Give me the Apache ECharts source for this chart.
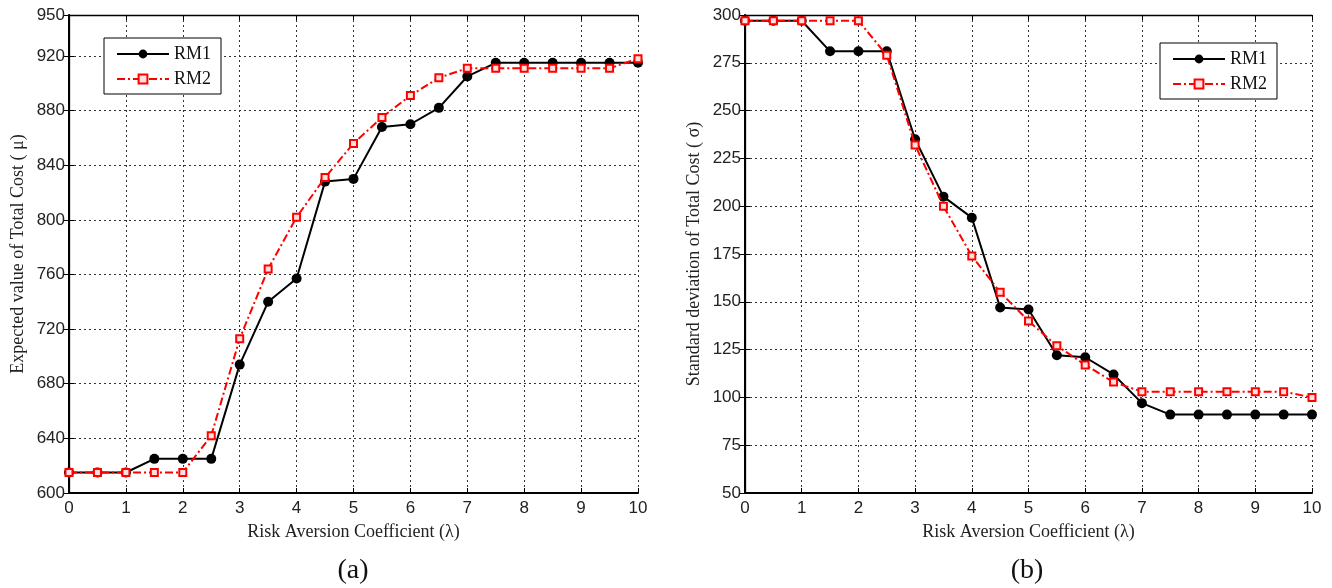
<!DOCTYPE html>
<html>
<head>
<meta charset="utf-8">
<script src="https://cdn.jsdelivr.net/npm/echarts@6/dist/echarts.min.js"></script>
<style>
html,body{margin:0;padding:0;background:#fff;}
#chart{width:1332px;height:588px;}
</style>
</head>
<body>
<div id="chart"></div>
<script>
// ---- Data ----
const lambdaValues = [0,0.5,1,1.5,2,2.5,3,3.5,4,4.5,5,5.5,6,6.5,7,7.5,8,8.5,9,9.5,10];
const meanRM1 = [615,615,615,625,625,625,694,740,757,828,830,868,870,882,905,915,915,915,915,915,915];
const meanRM2 = [615,615,615,615,615,642,713,764,802,831,856,875,891,904,911,911,911,911,911,911,918];
const stdRM1 = [297,297,297,281,281,281,235,205,194,147,146,122,121,112,97,91,91,91,91,91,91];
const stdRM2 = [297,297,297,297,297,279,232,200,174,155,140,127,117,108,103,103,103,103,103,103,100];
const seriesNames = ['RM1','RM2'];
const xAxisTitle = 'Risk Aversion Coefficient (\u03bb)';
const yTitleA = 'Expected value of Total Cost ( \u03bc)';
const yTitleB = 'Standard deviation of Total Cost ( \u03c3)';
const panelLabels = ['(a)','(b)'];

const pair = (ys) => lambdaValues.map((x,i)=>[x, ys[i]]);

const tickFont = {fontFamily:'Liberation Sans', fontSize:17, color:'#222'};
const serif = 'Liberation Serif';

function xAxes(gi){
  return [
    {type:'value', gridIndex:gi, min:0, max:10, interval:1, position:'bottom',
     name:xAxisTitle, nameLocation:'middle', nameGap:30,
     nameTextStyle:{fontFamily:serif, fontSize:18, color:'#222'},
     axisLine:{lineStyle:{color:'#000', width:2}},
     axisTick:{inside:true, length:5, lineStyle:{color:'#000'}},
     axisLabel:Object.assign({margin:7}, tickFont),
     splitLine:{show:true, lineStyle:{color:'#333', width:1, type:[2,3]}}},
    {type:'value', gridIndex:gi, min:0, max:10, interval:1, position:'top',
     axisLine:{lineStyle:{color:'#000', width:1.3}},
     axisTick:{inside:true, length:5, lineStyle:{color:'#000'}},
     axisLabel:{show:false}, splitLine:{show:false}}
  ];
}
function yAxes(gi, min, max, interval, title){
  return [
    {type:'value', gridIndex:gi, min:min, max:max, interval:interval, position:'left',
     name:title, nameLocation:'middle', nameGap:42,
     nameTextStyle:{fontFamily:serif, fontSize:18, color:'#222'},
     axisLine:{show:true, lineStyle:{color:'#000', width:2}},
     axisTick:{show:true, inside:true, length:5, lineStyle:{color:'#000'}},
     axisLabel:Object.assign({margin:4}, tickFont),
     splitLine:{show:true, lineStyle:{color:'#333', width:1, type:[2,3]}}},
    {type:'value', gridIndex:gi, min:min, max:max, interval:interval, position:'right',
     axisLine:{show:true, lineStyle:{color:'#000', width:1.3}},
     axisTick:{show:true, inside:true, length:5, lineStyle:{color:'#000'}},
     axisLabel:{show:false}, splitLine:{show:false}}
  ];
}
function rm1(gi, ys){
  return {name:seriesNames[0], type:'line', xAxisIndex:gi*2, yAxisIndex:gi*2, data:pair(ys),
    symbol:'circle', symbolSize:10, z:3,
    lineStyle:{color:'#000', width:2},
    itemStyle:{color:'#000', borderColor:'#000', borderWidth:0}};
}
function rm2(gi, ys){
  return {name:seriesNames[1], type:'line', xAxisIndex:gi*2, yAxisIndex:gi*2, data:pair(ys),
    symbol:'rect', symbolSize:7, z:4,
    lineStyle:{color:'#ff0000', width:2, type:[8,3,2,3]},
    itemStyle:{color:'#ffe0e0', borderColor:'#ff0000', borderWidth:2}};
}
function legend(left, top){
  return {left:left, top:top, orient:'vertical', data:seriesNames,
    itemWidth:52, itemHeight:11, itemGap:7, padding:[7,10,6,12],
    backgroundColor:'#fff', borderColor:'#000', borderWidth:1, borderRadius:0,
    textStyle:{fontFamily:serif, fontSize:18, color:'#111', padding:[0,0,0,0]}, selectedMode:false};
}

const chart = echarts.init(document.getElementById('chart'));
chart.setOption({
  animation:false,
  backgroundColor:'#fff',
  grid:[
    {left:69, top:15, right:694, bottom:95},
    {left:745, top:15, right:20, bottom:95}
  ],
  xAxis:[...xAxes(0), ...xAxes(1)],
  yAxis:[...yAxes(0,600,950,40,yTitleA), ...yAxes(1,50,300,25,yTitleB)],
  legend:[legend(104,38), legend(1160,43)],
  series:[rm1(0,meanRM1), rm2(0,meanRM2), rm1(1,stdRM1), rm2(1,stdRM2)],
  graphic:[
    {type:'text', x:353, y:571, style:{text:panelLabels[0], font:'28px "Liberation Serif"', fill:'#111', textAlign:'center', textVerticalAlign:'middle'}},
    {type:'text', x:1027, y:571, style:{text:panelLabels[1], font:'28px "Liberation Serif"', fill:'#111', textAlign:'center', textVerticalAlign:'middle'}}
  ]
});
</script>
</body>
</html>
